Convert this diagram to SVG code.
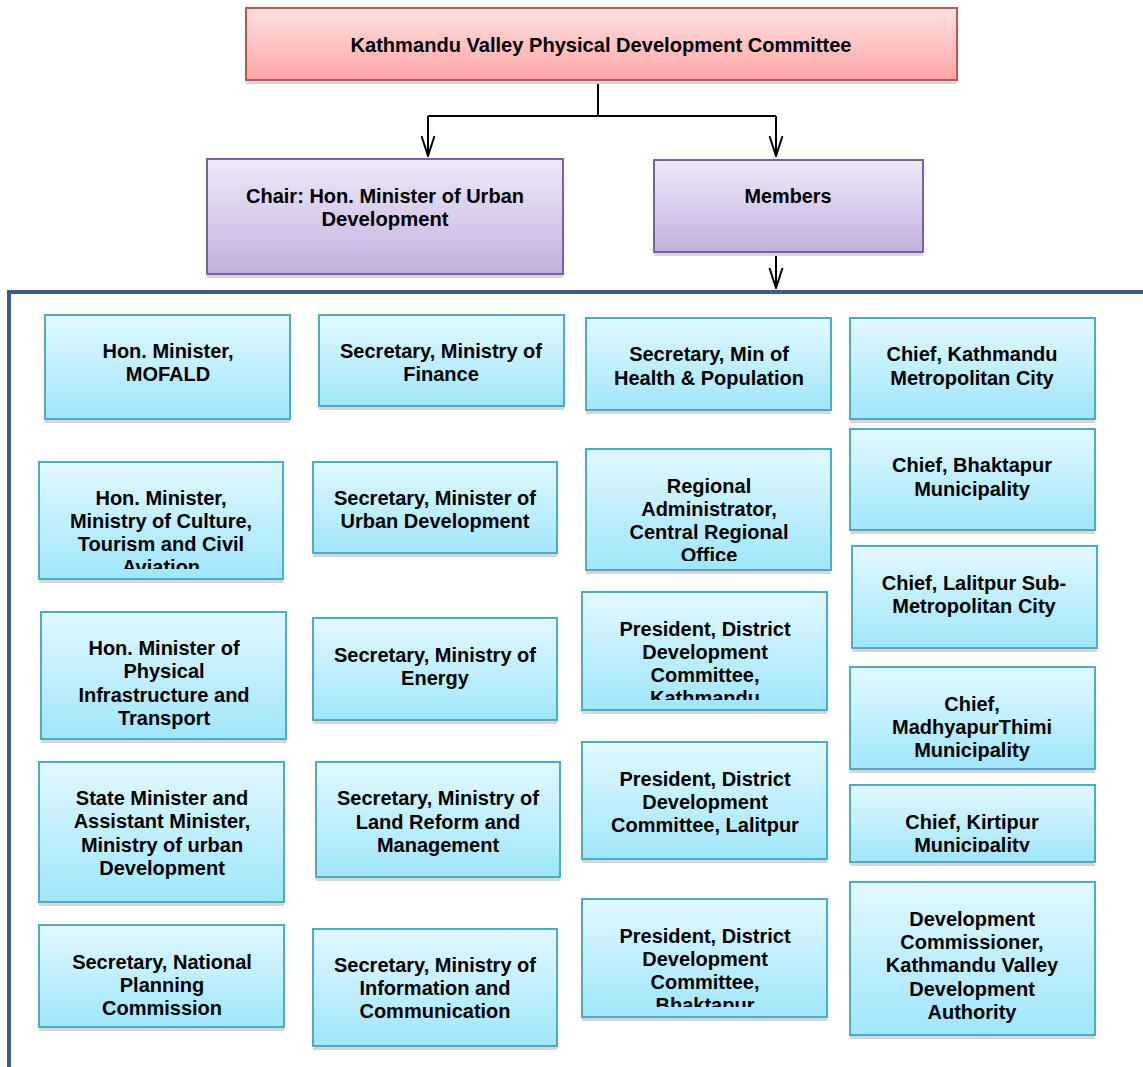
<svg xmlns="http://www.w3.org/2000/svg" width="1143" height="1067" viewBox="0 0 1143 1067">
<defs>
<linearGradient id="gRed" x1="0" y1="0" x2="0" y2="1"><stop offset="0" stop-color="#ffe0e0"/><stop offset="1" stop-color="#ffa6a6"/></linearGradient>
<linearGradient id="gPur" x1="0" y1="0" x2="0" y2="1"><stop offset="0" stop-color="#eee9f7"/><stop offset="1" stop-color="#c4b0e0"/></linearGradient>
<linearGradient id="gCy" x1="0" y1="0" x2="0" y2="1"><stop offset="0" stop-color="#e2f8fe"/><stop offset="1" stop-color="#a0e6fb"/></linearGradient>
<marker id="arr" viewBox="0 0 22 16" refX="21" refY="8" markerWidth="22" markerHeight="16" markerUnits="userSpaceOnUse" orient="auto">
<path d="M1,1.5 L21,8 L1,14.5" fill="none" stroke="#000" stroke-width="2"/>
</marker>
<clipPath id="c1"><rect x="39" y="462" width="244" height="107"/></clipPath>
<clipPath id="c2"><rect x="586" y="449" width="245" height="112"/></clipPath>
<clipPath id="c3"><rect x="582" y="592" width="245" height="108"/></clipPath>
<clipPath id="c4"><rect x="582" y="899" width="245" height="108"/></clipPath>
<clipPath id="c5"><rect x="850" y="785" width="245" height="67"/></clipPath>
</defs>
<style>
.sh{fill:#d6d6d6}
.red{fill:url(#gRed);stroke:#c9504f;stroke-width:2}
.pur{fill:url(#gPur);stroke:#7d5fa3;stroke-width:2}
.cy{fill:url(#gCy);stroke:#4aacc6;stroke-width:2}
text{font-family:"Liberation Sans",Arial,sans-serif;font-weight:bold;fill:#000;text-anchor:middle}
.t{font-size:20px}
.h{font-size:20px}
.ht{font-size:21px}
.con{fill:none;stroke:#000;stroke-width:2}
</style>
<rect width="1143" height="1067" fill="#fff"/>

<g id="frame">
<path d="M9,1067 V292 H1143" fill="none" stroke="#3b5e8f" stroke-width="4"/>
</g>

<g id="connectors">
<path class="con" d="M598,80 V116"/>
<path class="con" d="M428,116 H776"/>
<path class="con" d="M428,116 V156" marker-end="url(#arr)"/>
<path class="con" d="M776,116 V156" marker-end="url(#arr)"/>
<path class="con" d="M776,252 V288" marker-end="url(#arr)"/>
</g>

<g id="n-top">
<rect class="sh" x="246" y="11" width="711" height="73"/>
<rect class="red" x="246" y="8" width="711" height="72"/>
<text class="ht" x="601" y="51.5" textLength="501" lengthAdjust="spacingAndGlyphs">Kathmandu Valley Physical Development Committee</text>
</g>

<g id="n-chair">
<rect class="sh" x="207" y="162" width="356" height="116"/>
<rect class="pur" x="207" y="159" width="356" height="115"/>
<text class="h" x="385" y="203" textLength="278" lengthAdjust="spacingAndGlyphs">Chair: Hon. Minister of Urban</text>
<text class="h" x="385" y="226" textLength="127" lengthAdjust="spacingAndGlyphs">Development</text>
</g>

<g id="n-members">
<rect class="sh" x="654" y="163" width="269" height="93"/>
<rect class="pur" x="654" y="160" width="269" height="92"/>
<text class="h" x="788" y="203" textLength="87" lengthAdjust="spacingAndGlyphs">Members</text>
</g>

<!-- Column 1 -->
<g id="n-mofald">
<rect class="sh" x="45" y="318" width="245" height="105"/>
<rect class="cy" x="45" y="315" width="245" height="104"/>
<text class="t" x="168" y="358">Hon. Minister,</text>
<text class="t" x="168" y="381">MOFALD</text>
</g>
<g id="n-culture">
<rect class="sh" x="39" y="465" width="244" height="118"/>
<rect class="cy" x="39" y="462" width="244" height="117"/>
<g clip-path="url(#c1)">
<text class="t" x="161" y="505">Hon. Minister,</text>
<text class="t" x="161" y="528">Ministry of Culture,</text>
<text class="t" x="161" y="551">Tourism and Civil</text>
<text class="t" x="161" y="574">Aviation</text>
</g>
</g>
<g id="n-physical">
<rect class="sh" x="41" y="615" width="245" height="128"/>
<rect class="cy" x="41" y="612" width="245" height="127"/>
<text class="t" x="164" y="655">Hon. Minister of</text>
<text class="t" x="164" y="678">Physical</text>
<text class="t" x="164" y="702">Infrastructure and</text>
<text class="t" x="164" y="725">Transport</text>
</g>
<g id="n-state">
<rect class="sh" x="39" y="765" width="245" height="141"/>
<rect class="cy" x="39" y="762" width="245" height="140"/>
<text class="t" x="162" y="805">State Minister and</text>
<text class="t" x="162" y="828">Assistant Minister,</text>
<text class="t" x="162" y="852">Ministry of urban</text>
<text class="t" x="162" y="875">Development</text>
</g>
<g id="n-npc">
<rect class="sh" x="39" y="928" width="245" height="103"/>
<rect class="cy" x="39" y="925" width="245" height="102"/>
<text class="t" x="162" y="969">Secretary, National</text>
<text class="t" x="162" y="992">Planning</text>
<text class="t" x="162" y="1015">Commission</text>
</g>

<!-- Column 2 -->
<g id="n-finance">
<rect class="sh" x="319" y="318" width="245" height="92"/>
<rect class="cy" x="319" y="315" width="245" height="91"/>
<text class="t" x="441" y="358">Secretary, Ministry of</text>
<text class="t" x="441" y="381">Finance</text>
</g>
<g id="n-urban">
<rect class="sh" x="313" y="465" width="244" height="92"/>
<rect class="cy" x="313" y="462" width="244" height="91"/>
<text class="t" x="435" y="505">Secretary, Minister of</text>
<text class="t" x="435" y="528">Urban Development</text>
</g>
<g id="n-energy">
<rect class="sh" x="313" y="621" width="244" height="103"/>
<rect class="cy" x="313" y="618" width="244" height="102"/>
<text class="t" x="435" y="662">Secretary, Ministry of</text>
<text class="t" x="435" y="685">Energy</text>
</g>
<g id="n-land">
<rect class="sh" x="316" y="765" width="244" height="116"/>
<rect class="cy" x="316" y="762" width="244" height="115"/>
<text class="t" x="438" y="805">Secretary, Ministry of</text>
<text class="t" x="438" y="829">Land Reform and</text>
<text class="t" x="438" y="852">Management</text>
</g>
<g id="n-info">
<rect class="sh" x="313" y="932" width="244" height="118"/>
<rect class="cy" x="313" y="929" width="244" height="117"/>
<text class="t" x="435" y="972">Secretary, Ministry of</text>
<text class="t" x="435" y="995">Information and</text>
<text class="t" x="435" y="1018">Communication</text>
</g>

<!-- Column 3 -->
<g id="n-health">
<rect class="sh" x="586" y="321" width="245" height="93"/>
<rect class="cy" x="586" y="318" width="245" height="92"/>
<text class="t" x="709" y="361">Secretary, Min of</text>
<text class="t" x="709" y="385">Health &amp; Population</text>
</g>
<g id="n-regional">
<rect class="sh" x="586" y="452" width="245" height="122"/>
<rect class="cy" x="586" y="449" width="245" height="121"/>
<g clip-path="url(#c2)">
<text class="t" x="709" y="493">Regional</text>
<text class="t" x="709" y="516">Administrator,</text>
<text class="t" x="709" y="539">Central Regional</text>
<text class="t" x="709" y="562">Office</text>
</g>
</g>
<g id="n-ddc-ktm">
<rect class="sh" x="582" y="595" width="245" height="119"/>
<rect class="cy" x="582" y="592" width="245" height="118"/>
<g clip-path="url(#c3)">
<text class="t" x="705" y="636">President, District</text>
<text class="t" x="705" y="659">Development</text>
<text class="t" x="705" y="682">Committee,</text>
<text class="t" x="705" y="705">Kathmandu</text>
</g>
</g>
<g id="n-ddc-lal">
<rect class="sh" x="582" y="745" width="245" height="118"/>
<rect class="cy" x="582" y="742" width="245" height="117"/>
<text class="t" x="705" y="786">President, District</text>
<text class="t" x="705" y="809">Development</text>
<text class="t" x="705" y="832">Committee, Lalitpur</text>
</g>
<g id="n-ddc-bkt">
<rect class="sh" x="582" y="902" width="245" height="119"/>
<rect class="cy" x="582" y="899" width="245" height="118"/>
<g clip-path="url(#c4)">
<text class="t" x="705" y="943">President, District</text>
<text class="t" x="705" y="966">Development</text>
<text class="t" x="705" y="989">Committee,</text>
<text class="t" x="705" y="1012">Bhaktapur</text>
</g>
</g>

<!-- Column 4 -->
<g id="n-kmc">
<rect class="sh" x="850" y="321" width="245" height="102"/>
<rect class="cy" x="850" y="318" width="245" height="101"/>
<text class="t" x="972" y="361">Chief, Kathmandu</text>
<text class="t" x="972" y="385">Metropolitan City</text>
</g>
<g id="n-bkt">
<rect class="sh" x="850" y="432" width="245" height="102"/>
<rect class="cy" x="850" y="429" width="245" height="101"/>
<text class="t" x="972" y="472">Chief, Bhaktapur</text>
<text class="t" x="972" y="496">Municipality</text>
</g>
<g id="n-lsmc">
<rect class="sh" x="852" y="549" width="245" height="103"/>
<rect class="cy" x="852" y="546" width="245" height="102"/>
<text class="t" x="974" y="590">Chief, Lalitpur Sub-</text>
<text class="t" x="974" y="613">Metropolitan City</text>
</g>
<g id="n-thimi">
<rect class="sh" x="850" y="670" width="245" height="103"/>
<rect class="cy" x="850" y="667" width="245" height="102"/>
<text class="t" x="972" y="711">Chief,</text>
<text class="t" x="972" y="734">MadhyapurThimi</text>
<text class="t" x="972" y="757">Municipality</text>
</g>
<g id="n-kirtipur">
<rect class="sh" x="850" y="788" width="245" height="78"/>
<rect class="cy" x="850" y="785" width="245" height="77"/>
<g clip-path="url(#c5)">
<text class="t" x="972" y="829">Chief, Kirtipur</text>
<text class="t" x="972" y="852">Municipality</text>
</g>
</g>
<g id="n-kvda">
<rect class="sh" x="850" y="885" width="245" height="154"/>
<rect class="cy" x="850" y="882" width="245" height="153"/>
<text class="t" x="972" y="926">Development</text>
<text class="t" x="972" y="949">Commissioner,</text>
<text class="t" x="972" y="972">Kathmandu Valley</text>
<text class="t" x="972" y="996">Development</text>
<text class="t" x="972" y="1019">Authority</text>
</g>
</svg>
